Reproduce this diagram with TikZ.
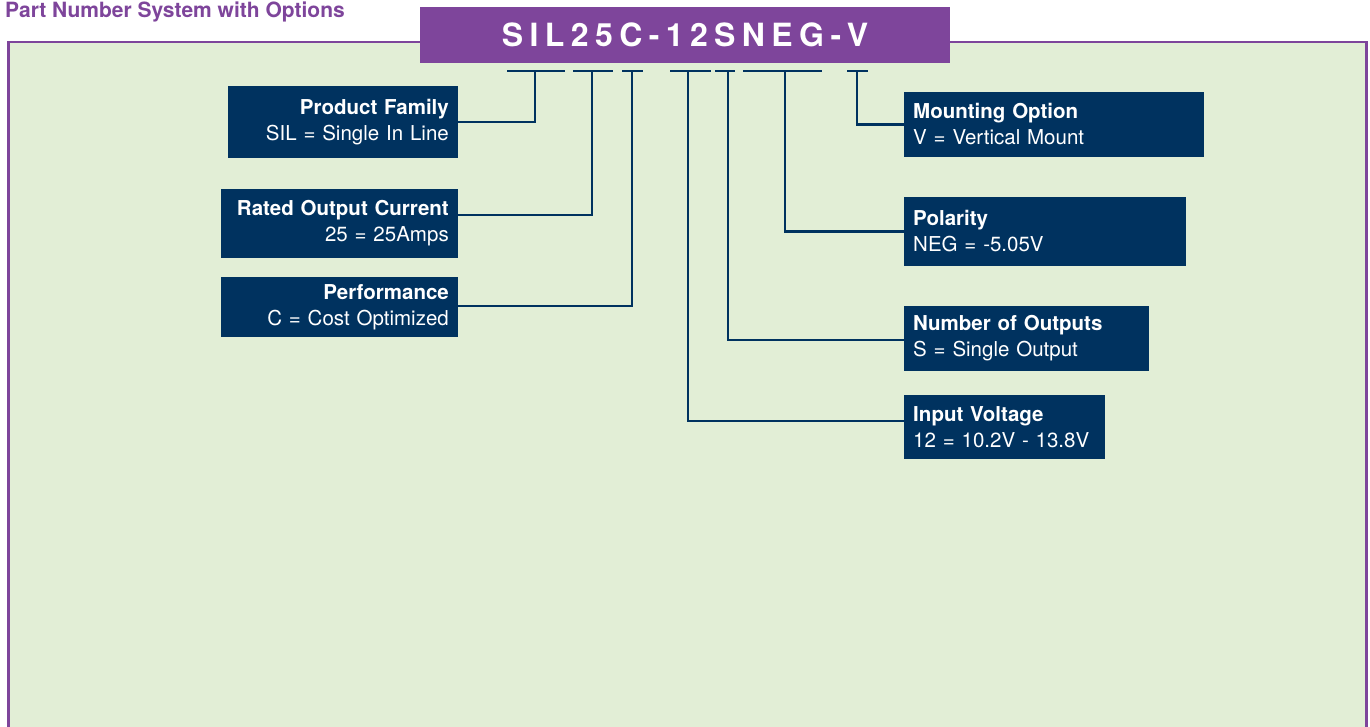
\documentclass[tikz,border=0pt]{standalone}
\usepackage{fontspec}
\setmainfont{TeX Gyre Heros}
\definecolor{pnpurple}{RGB}{126,69,155}
\definecolor{pnnavy}{RGB}{0,50,95}
\definecolor{pngreen}{RGB}{226,238,214}
\tikzset{
  leftbox/.style={fill=pnnavy,text=white,anchor=east,align=right,inner xsep=9pt,inner ysep=0pt,
    font=\fontsize{20.5}{26}\selectfont},
  rightbox/.style={leftbox,anchor=west,align=left},
  link/.style={draw=pnnavy,line width=2.5pt}
}
\begin{document}
\begin{tikzpicture}[x=1pt,y=-1pt]
  \useasboundingbox (0,0) rectangle (1370,727);
  % frame
  \fill[pngreen] (8.5,42) rectangle (1366.5,727);
  \draw[pnpurple,line width=2.5pt] (8.5,727) -- (8.5,42) -- (1366.5,42) -- (1366.5,727);
  \node[anchor=base west,inner sep=0pt,text=pnpurple,font=\fontsize{21}{25}\selectfont\bfseries] (heading) at (5,17.3) {Part Number System with Options};
  \node[fill=pnpurple,text=white,minimum width=530pt,minimum height=56pt,inner sep=0pt,
    font=\fontsize{32}{38}\selectfont\bfseries\addfontfeature{LetterSpace=20}] (code) at (685,35) {SIL25C-12SNEG-V};
  % option boxes
  \node[leftbox,text width=212pt,minimum height=72pt] (family) at (458,122) {\textbf{Product Family}\\SIL = Single In Line};
  \node[leftbox,text width=219pt,minimum height=69pt] (rated) at (458,223.5) {\textbf{Rated Output Current}\\25 = 25Amps};
  \node[leftbox,text width=219pt,minimum height=60pt] (perf) at (458,307) {\textbf{Performance}\\C = Cost Optimized};
  \node[rightbox,text width=282pt,minimum height=65pt] (mount) at (904,124.5) {\textbf{Mounting Option}\\V = Vertical Mount};
  \node[rightbox,text width=264pt,minimum height=69pt] (polar) at (904,231.5) {\textbf{Polarity}\\NEG = -5.05V};
  \node[rightbox,text width=227pt,minimum height=65pt] (outputs) at (904,338.5) {\textbf{Number of Outputs}\\S = Single Output};
  \node[rightbox,text width=183pt,minimum height=64pt] (input) at (904,427) {\textbf{Input Voltage}\\12 = 10.2V - 13.8V};
  % bars under the code
  \foreach \a/\b/\m/\n in {507/565/535/fam, 573/613/592/cur, 622/643/632/cst, 670/711/688/vin,
      715/735/728/nout, 743/822/785/neg, 847/868/857/vmt} {
    \draw[link] (\a,71) -- (\b,71);
    \coordinate (\n) at (\m,71);
  }
  \draw[link] (fam) |- (family);
  \draw[link] (cur) |- ([yshift=8.5pt]rated.east);
  \draw[link] (cst) |- ([yshift=1pt]perf.east);
  \draw[link] (vin) |- ([yshift=6pt]input.west);
  \draw[link] (nout) |- ([yshift=-1.5pt]outputs.west);
  \draw[link] (neg) |- (polar);
  \draw[link] (vmt) |- (mount);
\end{tikzpicture}
\end{document}
